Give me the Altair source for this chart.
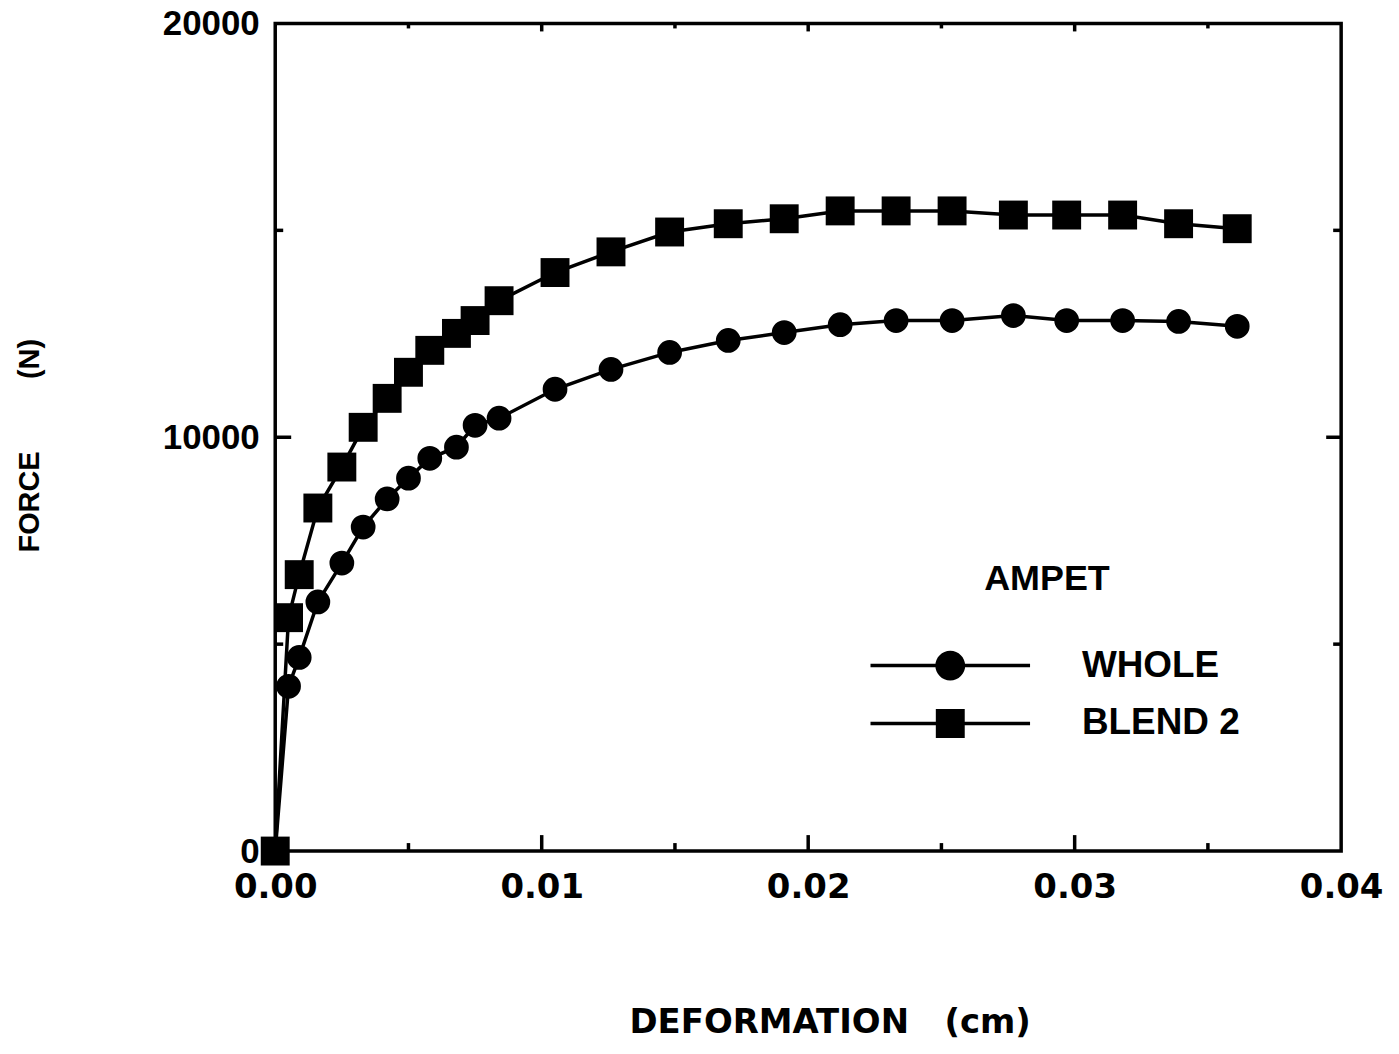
import altair as alt
import pandas as pd

# ---- data ----
deformation = [0, 0.0005, 0.0009, 0.0016, 0.0025, 0.0033, 0.0042, 0.0050, 0.0058,
               0.0068, 0.0075, 0.0084, 0.0105, 0.0126, 0.0148, 0.0170, 0.0191,
               0.0212, 0.0233, 0.0254, 0.0277, 0.0297, 0.0318, 0.0339, 0.0361]
whole = [0, 3980, 4680, 6020, 6960, 7830, 8510, 9010, 9490, 9760, 10290, 10460,
         11160, 11640, 12050, 12340, 12530, 12720, 12820, 12820, 12940, 12820,
         12820, 12800, 12680]
blend2 = [0, 5640, 6680, 8290, 9280, 10240, 10940, 11570, 12100, 12510, 12820,
          13300, 13980, 14480, 14960, 15160, 15280, 15470, 15470, 15470, 15370,
          15370, 15370, 15160, 15040]
series = ["WHOLE", "BLEND 2"]
legend_title = "AMPET"
x_title = "DEFORMATION\u00a0\u00a0\u00a0(cm)"
y_title = "FORCE" + "\u00a0" * 9 + "(N)"
x_tick_values = [0, 0.01, 0.02, 0.03, 0.04]
y_tick_values = [0, 10000, 20000]
x_major_inner = [0.01, 0.02, 0.03]
x_minor_inner = [0.005, 0.015, 0.025, 0.035]
y_major_inner = [10000]
y_minor_inner = [5000, 15000]

W, H = 1069, 830

rows = []
for name, vals in zip(series, [whole, blend2]):
    for xv, yv in zip(deformation, vals):
        rows.append({"deformation": xv, "force": yv, "series": name})
df = pd.DataFrame(rows)

xscale = alt.Scale(domain=[0, 0.04], nice=False, zero=False)
yscale = alt.Scale(domain=[0, 20000], nice=False)

x_axis = alt.Axis(values=x_tick_values, format=".2f", ticks=False, tickSize=0,
                  domain=False, grid=False, labelFont="DejaVu Sans",
                  labelFontSize=34, labelFontWeight="bold", labelColor="black",
                  labelPadding=20, labelFlush=False,
                  title=x_title, titleFont="DejaVu Sans",
                  titleFontSize=34, titleFontWeight="bold", titleColor="black",
                  titleX=556, titleY=172, titleBaseline="middle", titleAlign="center")
y_axis = alt.Axis(values=y_tick_values, format="d", ticks=False, tickSize=0,
                  domain=False, grid=False, labelFont="Liberation Sans",
                  labelFontSize=35, labelFontWeight="bold", labelColor="black",
                  labelPadding=16, labelFlush=False,
                  title=y_title, titleFont="Liberation Sans",
                  titleFontSize=29, titleFontWeight="bold", titleColor="black",
                  titleX=-246, titleY=423, titleBaseline="middle", titleAlign="center",
                  titleAngle=270)

base = alt.Chart(df)

lines = base.mark_line(color="black", strokeWidth=3.5).encode(
    x=alt.X("deformation:Q", scale=xscale, axis=x_axis),
    y=alt.Y("force:Q", scale=yscale, axis=y_axis),
    detail="series:N",
)

points = base.mark_point(filled=True, color="black", opacity=1).encode(
    x=alt.X("deformation:Q", scale=xscale),
    y=alt.Y("force:Q", scale=yscale),
    shape=alt.Shape("series:N", scale=alt.Scale(domain=series, range=["circle", "square"]), legend=None),
    size=alt.Size("series:N", scale=alt.Scale(domain=series, range=[616, 841]), legend=None),
    order=alt.Order("series:N", sort="descending"),
)

# legend glyphs: a line segment with the series marker at its middle
# (unit = 20 px for symbolSize 1600; glyph shifted right of the symbol origin)
circle_path = ("M-0.2,-0.0875H7.8V0.0875H-0.2Z "
               "M4.55,0A0.75,0.75,0,1,1,3.05,0A0.75,0.75,0,1,1,4.55,0Z")
square_path = ("M-0.2,-0.0875H7.8V0.0875H-0.2Z "
               "M3.075,-0.725H4.525V0.725H3.075Z")

legend_layer = base.mark_point(filled=True, color="black").encode(
    x=alt.X("deformation:Q", scale=xscale),
    y=alt.Y("force:Q", scale=yscale),
    shape=alt.Shape("series:N",
                    scale=alt.Scale(domain=series, range=[circle_path, square_path]),
                    legend=alt.Legend(title=legend_title, orient="none",
                                      legendX=581, legendY=540,
                                      symbolSize=1600, symbolStrokeWidth=0,
                                      symbolFillColor="black", symbolOpacity=1,
                                      labelFont="Liberation Sans", labelFontSize=37,
                                      labelFontWeight="bold", labelColor="black",
                                      labelOffset=188, labelLimit=400,
                                      titleFont="Liberation Sans", titleFontSize=36,
                                      titleFontWeight="bold", titleColor="black",
                                      titleAnchor="middle", titlePadding=48,
                                      rowPadding=20, padding=0)),
).transform_filter("false")

tick_df_xM = pd.DataFrame({"v": x_major_inner})
tick_df_xm = pd.DataFrame({"v": x_minor_inner})
tick_df_yM = pd.DataFrame({"v": y_major_inner})
tick_df_ym = pd.DataFrame({"v": y_minor_inner})

def xticks(d, y0, y1):
    return alt.Chart(d).mark_rule(color="black", strokeWidth=3.5).encode(
        x=alt.X("v:Q", scale=xscale), y=alt.value(y0), y2=alt.value(y1))

def yticks(d, x0, x1):
    return alt.Chart(d).mark_rule(color="black", strokeWidth=3.5).encode(
        y=alt.Y("v:Q", scale=yscale), x=alt.value(x0), x2=alt.value(x1))

ticks = [
    xticks(tick_df_xM, H, H - 16), xticks(tick_df_xm, H, H - 8),
    xticks(tick_df_xM, 0, 8), xticks(tick_df_xm, 0, 5),
    yticks(tick_df_yM, 0, 16), yticks(tick_df_ym, 0, 8),
    yticks(tick_df_yM, W, W - 15), yticks(tick_df_ym, W, W - 8),
]

chart = alt.layer(lines, *ticks, points, legend_layer).resolve_scale(
    shape="independent", size="independent"
).properties(
    width=W, height=H,
    autosize=alt.AutoSizeParams(type="none"),
    padding={"left": 268, "top": 14, "right": 50, "bottom": 190},
    background="white",
).configure_view(stroke="black", strokeWidth=3.5)

chart.save("out.html", embed_options={"renderer": "svg", "actions": False})
